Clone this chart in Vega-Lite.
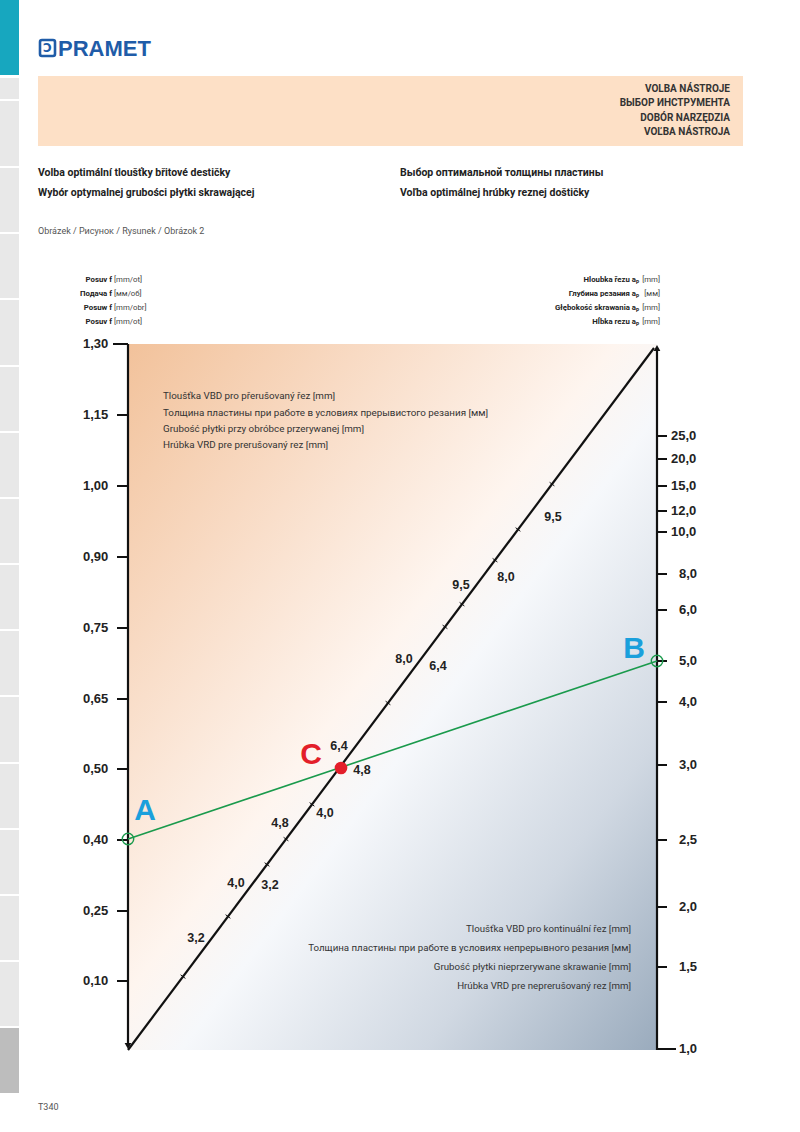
{
  "$schema": "https://vega.github.io/schema/vega-lite/v6.json",
  "width": 800,
  "height": 1132,
  "padding": 0,
  "autosize": {"type": "fit", "contains": "padding"},
  "background": "#ffffff",
  "view": {"stroke": null},
  "config": {"font": "Roboto"},
  "datasets": {
    "side": [
      {"y": 0, "y2": 75, "k": "teal"},
      {"y": 78, "y2": 99, "k": "gray"},
      {"y": 101, "y2": 166, "k": "gray"},
      {"y": 168, "y2": 232, "k": "gray"},
      {"y": 234, "y2": 298, "k": "gray"},
      {"y": 300, "y2": 365, "k": "gray"},
      {"y": 367, "y2": 431, "k": "gray"},
      {"y": 433, "y2": 497, "k": "gray"},
      {"y": 499, "y2": 563, "k": "gray"},
      {"y": 565, "y2": 629, "k": "gray"},
      {"y": 631, "y2": 695, "k": "gray"},
      {"y": 697, "y2": 762, "k": "gray"},
      {"y": 764, "y2": 828, "k": "gray"},
      {"y": 830, "y2": 894, "k": "gray"},
      {"y": 896, "y2": 960, "k": "gray"},
      {"y": 962, "y2": 1026, "k": "gray"},
      {"y": 1028, "y2": 1093, "k": "dark"}
    ],
    "axes": [
      {"x": 128, "y": 344, "x2": 128, "y2": 1044},
      {"x": 657, "y": 350, "x2": 657, "y2": 1050},
      {"x": 128, "y": 1050, "x2": 654, "y2": 348}
    ],
    "lticks": [
      {"v": "1,30", "y": 344, "x": 113},
      {"v": "1,15", "y": 415, "x": 117},
      {"v": "1,00", "y": 486, "x": 117},
      {"v": "0,90", "y": 557, "x": 117},
      {"v": "0,75", "y": 628, "x": 117},
      {"v": "0,65", "y": 699, "x": 117},
      {"v": "0,50", "y": 769, "x": 117},
      {"v": "0,40", "y": 840, "x": 117},
      {"v": "0,25", "y": 911, "x": 117},
      {"v": "0,10", "y": 981, "x": 117}
    ],
    "rticks": [
      {"v": "25,0", "y": 436, "x2": 667, "lx": 671},
      {"v": "20,0", "y": 459, "x2": 667, "lx": 671},
      {"v": "15,0", "y": 486, "x2": 667, "lx": 671},
      {"v": "12,0", "y": 511, "x2": 667, "lx": 671},
      {"v": "10,0", "y": 532, "x2": 667, "lx": 671},
      {"v": "8,0", "y": 574, "x2": 667, "lx": 679},
      {"v": "6,0", "y": 610, "x2": 667, "lx": 679},
      {"v": "5,0", "y": 661, "x2": 667, "lx": 679},
      {"v": "4,0", "y": 702, "x2": 667, "lx": 679},
      {"v": "3,0", "y": 765, "x2": 667, "lx": 679},
      {"v": "2,5", "y": 840, "x2": 667, "lx": 679},
      {"v": "2,0", "y": 907, "x2": 667, "lx": 679},
      {"v": "1,5", "y": 967, "x2": 667, "lx": 679},
      {"v": "1,0", "y": 1049, "x2": 676, "lx": 679}
    ],
    "dticks": [
      {"x": 180.6, "y": 974.8, "x2": 185.4, "y2": 978.4},
      {"x": 225.6, "y": 914.7, "x2": 230.4, "y2": 918.3},
      {"x": 264.6, "y": 862.7, "x2": 269.4, "y2": 866.3},
      {"x": 283.6, "y": 837.3, "x2": 288.4, "y2": 840.9},
      {"x": 309.6, "y": 802.6, "x2": 314.4, "y2": 806.2},
      {"x": 385.6, "y": 701.2, "x2": 390.4, "y2": 704.8},
      {"x": 442.6, "y": 625.1, "x2": 447.4, "y2": 628.7},
      {"x": 459.6, "y": 602.4, "x2": 464.4, "y2": 606.0},
      {"x": 492.6, "y": 558.4, "x2": 497.4, "y2": 562.0},
      {"x": 515.6, "y": 527.7, "x2": 520.4, "y2": 531.3},
      {"x": 549.6, "y": 482.3, "x2": 554.4, "y2": 485.9}
    ],
    "dlabels": [
      {"t": "3,2", "x": 196, "y": 938},
      {"t": "4,0", "x": 236, "y": 883},
      {"t": "4,8", "x": 280, "y": 823},
      {"t": "6,4", "x": 339, "y": 746},
      {"t": "8,0", "x": 404, "y": 659},
      {"t": "9,5", "x": 461, "y": 585},
      {"t": "3,2", "x": 270, "y": 885},
      {"t": "4,0", "x": 325, "y": 813},
      {"t": "4,8", "x": 362, "y": 770},
      {"t": "6,4", "x": 438, "y": 666},
      {"t": "8,0", "x": 506, "y": 577},
      {"t": "9,5", "x": 553, "y": 517}
    ],
    "green": [
      {"x": 128, "y": 839, "x2": 657, "y2": 661}
    ],
    "ends": [
      {"p": "A", "x": 128, "y": 839},
      {"p": "B", "x": 657, "y": 661}
    ],
    "cpoint": [{"p": "C", "x": 341, "y": 768}],
    "lettersBlue": [
      {"t": "A", "x": 145, "y": 811},
      {"t": "B", "x": 634, "y": 649}
    ],
    "lettersRed": [
      {"t": "C", "x": 311, "y": 755}
    ],
    "headbox": [
      {"t": "VOLBA NÁSTROJE", "y": 89},
      {"t": "ВЫБОР ИНСТРУМЕНТА", "y": 103},
      {"t": "DOBÓR NARZĘDZIA", "y": 118},
      {"t": "VOĽBA NÁSTROJA", "y": 132}
    ],
    "subtitles": [
      {"t": "Volba optimální tloušťky břitové destičky", "x": 38, "y": 173},
      {"t": "Wybór optymalnej grubości płytki skrawającej", "x": 38, "y": 193},
      {"t": "Выбор оптимальной толщины пластины", "x": 400, "y": 173},
      {"t": "Voľba optimálnej hrúbky reznej doštičky", "x": 400, "y": 193}
    ],
    "leftHeadBold": [
      {"t": "Posuv f", "y": 280},
      {"t": "Подача f", "y": 294},
      {"t": "Posuw f", "y": 308},
      {"t": "Posuv f", "y": 322}
    ],
    "leftHeadUnit": [
      {"t": "[mm/ot]", "y": 280},
      {"t": "[мм/об]", "y": 294},
      {"t": "[mm/obr]", "y": 308},
      {"t": "[mm/ot]", "y": 322}
    ],
    "rightHeadBold": [
      {"t": "Hloubka řezu aₚ", "y": 280},
      {"t": "Глубина резания aₚ", "y": 294},
      {"t": "Głębokość skrawania aₚ", "y": 308},
      {"t": "Hĺbka rezu aₚ", "y": 322}
    ],
    "rightHeadUnit": [
      {"t": "[mm]", "y": 280},
      {"t": "[мм]", "y": 294},
      {"t": "[mm]", "y": 308},
      {"t": "[mm]", "y": 322}
    ],
    "topBlock": [
      {"t": "Tloušťka VBD pro přerušovaný řez [mm]", "y": 396},
      {"t": "Толщина пластины при работе в условиях прерывистого резания [мм]", "y": 413},
      {"t": "Grubość płytki przy obróbce przerywanej [mm]", "y": 429},
      {"t": "Hrúbka VRD pre prerušovaný rez [mm]", "y": 445}
    ],
    "bottomBlock": [
      {"t": "Tloušťka VBD pro kontinuální řez [mm]", "y": 929},
      {"t": "Толщина пластины при работе в условиях непрерывного резания [мм]", "y": 948},
      {"t": "Grubość płytki nieprzerywane skrawanie [mm]", "y": 967},
      {"t": "Hrúbka VRD pre neprerušovaný rez [mm]", "y": 986}
    ],
    "misc": [
      {"t": "Obrázek / Рисунок / Rysunek / Obrázok 2", "x": 38, "y": 231},
      {"t": "T340", "x": 38, "y": 1107}
    ],
    "logo": [{"t": "PRAMET", "x": 58, "y": 48}],
    "one": [{"k": 1}]
  },
  "layer": [
    {
      "data": {"name": "side"},
      "mark": {"type": "rect"},
      "encoding": {
        "x": {"datum": 0, "type": "quantitative", "scale": {"domain": [0, 800], "nice": false, "zero": false}, "axis": null},
        "x2": {"datum": 19},
        "y": {"field": "y", "type": "quantitative", "scale": {"domain": [0, 1132], "reverse": true, "nice": false, "zero": false}, "axis": null},
        "y2": {"field": "y2"},
        "color": {"field": "k", "type": "nominal", "scale": {"domain": ["teal", "gray", "dark"], "range": ["#17a7bf", "#e8e8e8", "#bdbdbd"]}, "legend": null}
      }
    },
    {
      "data": {"name": "one"},
      "mark": {"type": "rect", "fill": "#fde0c6"},
      "encoding": {
        "x": {"datum": 38, "type": "quantitative"},
        "x2": {"datum": 743},
        "y": {"datum": 76, "type": "quantitative"},
        "y2": {"datum": 146}
      }
    },
    {
      "data": {"name": "one"},
      "mark": {"type": "rect", "fill": {"gradient": "linear", "x1": 0, "y1": 0, "x2": 1, "y2": 1, "stops": [{"offset": 0, "color": "#f2c29b"}, {"offset": 0.22, "color": "#f8dac3"}, {"offset": 0.46, "color": "#fef5ef"}, {"offset": 0.55, "color": "#f6f8fb"}, {"offset": 0.78, "color": "#d0d8e2"}, {"offset": 1, "color": "#9aabbd"}]}},
      "encoding": {
        "x": {"datum": 128, "type": "quantitative"},
        "x2": {"datum": 657},
        "y": {"datum": 344, "type": "quantitative"},
        "y2": {"datum": 1050}
      }
    },
    {
      "data": {"name": "one"},
      "mark": {"type": "rect", "fill": "#ffffff", "fillOpacity": 0, "stroke": "#1f5ca8", "strokeWidth": 2.6, "cornerRadius": 2},
      "encoding": {
        "x": {"datum": 40, "type": "quantitative"},
        "x2": {"datum": 55},
        "y": {"datum": 40, "type": "quantitative"},
        "y2": {"datum": 56}
      }
    },
    {
      "data": {"name": "one"},
      "mark": {"type": "text", "text": "Ɔ", "font": "DejaVu Sans", "fontWeight": "bold", "fontSize": 12, "color": "#1f5ca8", "align": "center", "baseline": "middle"},
      "encoding": {
        "x": {"datum": 47.5, "type": "quantitative"},
        "y": {"datum": 48, "type": "quantitative"}
      }
    },
    {
      "data": {"name": "logo"},
      "mark": {"type": "text", "font": "Liberation Sans", "fontWeight": "bold", "fontSize": 22, "color": "#1f5ca8", "align": "left", "baseline": "middle", "dy": 1},
      "encoding": {
        "x": {"field": "x", "type": "quantitative"},
        "y": {"field": "y", "type": "quantitative"},
        "text": {"field": "t"}
      }
    },
    {
      "data": {"name": "headbox"},
      "mark": {"type": "text", "font": "Roboto", "fontWeight": "bold", "fontSize": 10, "color": "#333333", "align": "right", "baseline": "middle"},
      "encoding": {
        "x": {"datum": 730, "type": "quantitative"},
        "y": {"field": "y", "type": "quantitative"},
        "text": {"field": "t"}
      }
    },
    {
      "data": {"name": "subtitles"},
      "mark": {"type": "text", "font": "Roboto", "fontWeight": "bold", "fontSize": 10.5, "color": "#222222", "align": "left", "baseline": "middle"},
      "encoding": {
        "x": {"field": "x", "type": "quantitative"},
        "y": {"field": "y", "type": "quantitative"},
        "text": {"field": "t"}
      }
    },
    {
      "data": {"name": "misc"},
      "mark": {"type": "text", "font": "Roboto", "fontSize": 9, "color": "#555555", "align": "left", "baseline": "middle"},
      "encoding": {
        "x": {"field": "x", "type": "quantitative"},
        "y": {"field": "y", "type": "quantitative"},
        "text": {"field": "t"}
      }
    },
    {
      "data": {"name": "leftHeadBold"},
      "mark": {"type": "text", "font": "Roboto", "fontWeight": "bold", "fontSize": 7.8, "color": "#222222", "align": "right", "baseline": "middle"},
      "encoding": {
        "x": {"datum": 112, "type": "quantitative"},
        "y": {"field": "y", "type": "quantitative"},
        "text": {"field": "t"}
      }
    },
    {
      "data": {"name": "leftHeadUnit"},
      "mark": {"type": "text", "font": "Roboto", "fontSize": 7.8, "color": "#444444", "align": "left", "baseline": "middle"},
      "encoding": {
        "x": {"datum": 114, "type": "quantitative"},
        "y": {"field": "y", "type": "quantitative"},
        "text": {"field": "t"}
      }
    },
    {
      "data": {"name": "rightHeadBold"},
      "mark": {"type": "text", "font": "Roboto", "fontWeight": "bold", "fontSize": 7.8, "color": "#222222", "align": "right", "baseline": "middle"},
      "encoding": {
        "x": {"datum": 639, "type": "quantitative"},
        "y": {"field": "y", "type": "quantitative"},
        "text": {"field": "t"}
      }
    },
    {
      "data": {"name": "rightHeadUnit"},
      "mark": {"type": "text", "font": "Roboto", "fontSize": 7.8, "color": "#444444", "align": "right", "baseline": "middle"},
      "encoding": {
        "x": {"datum": 660, "type": "quantitative"},
        "y": {"field": "y", "type": "quantitative"},
        "text": {"field": "t"}
      }
    },
    {
      "data": {"name": "topBlock"},
      "mark": {"type": "text", "font": "Roboto", "fontSize": 9.8, "color": "#333333", "align": "left", "baseline": "middle"},
      "encoding": {
        "x": {"datum": 163, "type": "quantitative"},
        "y": {"field": "y", "type": "quantitative"},
        "text": {"field": "t"}
      }
    },
    {
      "data": {"name": "bottomBlock"},
      "mark": {"type": "text", "font": "Roboto", "fontSize": 9.7, "color": "#333333", "align": "right", "baseline": "middle"},
      "encoding": {
        "x": {"datum": 631, "type": "quantitative"},
        "y": {"field": "y", "type": "quantitative"},
        "text": {"field": "t"}
      }
    },
    {
      "data": {"name": "axes"},
      "mark": {"type": "rule", "color": "#111111", "strokeWidth": 2.2},
      "encoding": {
        "x": {"field": "x", "type": "quantitative"},
        "y": {"field": "y", "type": "quantitative"},
        "x2": {"field": "x2"},
        "y2": {"field": "y2"}
      }
    },
    {
      "data": {"name": "lticks"},
      "mark": {"type": "rule", "color": "#111111", "strokeWidth": 2},
      "encoding": {
        "x": {"field": "x", "type": "quantitative"},
        "x2": {"datum": 128},
        "y": {"field": "y", "type": "quantitative"}
      }
    },
    {
      "data": {"name": "lticks"},
      "mark": {"type": "text", "font": "Liberation Sans", "fontWeight": "bold", "fontSize": 13, "color": "#222222", "align": "left", "baseline": "middle"},
      "encoding": {
        "x": {"datum": 83, "type": "quantitative"},
        "y": {"field": "y", "type": "quantitative"},
        "text": {"field": "v"}
      }
    },
    {
      "data": {"name": "rticks"},
      "mark": {"type": "rule", "color": "#111111", "strokeWidth": 2},
      "encoding": {
        "x": {"field": "x2", "type": "quantitative"},
        "x2": {"datum": 657},
        "y": {"field": "y", "type": "quantitative"}
      }
    },
    {
      "data": {"name": "rticks"},
      "mark": {"type": "text", "font": "Liberation Sans", "fontWeight": "bold", "fontSize": 13, "color": "#222222", "align": "left", "baseline": "middle"},
      "encoding": {
        "x": {"field": "lx", "type": "quantitative"},
        "y": {"field": "y", "type": "quantitative"},
        "text": {"field": "v"}
      }
    },
    {
      "data": {"name": "dticks"},
      "mark": {"type": "rule", "color": "#111111", "strokeWidth": 1},
      "encoding": {
        "x": {"field": "x", "type": "quantitative"},
        "y": {"field": "y", "type": "quantitative"},
        "x2": {"field": "x2"},
        "y2": {"field": "y2"}
      }
    },
    {
      "data": {"name": "dlabels"},
      "mark": {"type": "text", "font": "Liberation Sans", "fontWeight": "bold", "fontSize": 12.5, "color": "#222222", "align": "center", "baseline": "middle"},
      "encoding": {
        "x": {"field": "x", "type": "quantitative"},
        "y": {"field": "y", "type": "quantitative"},
        "text": {"field": "t"}
      }
    },
    {
      "data": {"name": "one"},
      "mark": {"type": "point", "shape": "triangle-down", "filled": true, "color": "#111111", "size": 45, "opacity": 1},
      "encoding": {
        "x": {"datum": 128, "type": "quantitative"},
        "y": {"datum": 1046, "type": "quantitative"}
      }
    },
    {
      "data": {"name": "one"},
      "mark": {"type": "point", "shape": "triangle-up", "filled": true, "color": "#111111", "size": 45, "opacity": 1},
      "encoding": {
        "x": {"datum": 657, "type": "quantitative"},
        "y": {"datum": 348, "type": "quantitative"}
      }
    },
    {
      "data": {"name": "green"},
      "mark": {"type": "rule", "color": "#1a9a4c", "strokeWidth": 1.6},
      "encoding": {
        "x": {"field": "x", "type": "quantitative"},
        "y": {"field": "y", "type": "quantitative"},
        "x2": {"field": "x2"},
        "y2": {"field": "y2"}
      }
    },
    {
      "data": {"name": "ends"},
      "mark": {"type": "point", "shape": "circle", "filled": false, "stroke": "#1a9a4c", "strokeWidth": 1.4, "size": 130, "opacity": 1},
      "encoding": {
        "x": {"field": "x", "type": "quantitative"},
        "y": {"field": "y", "type": "quantitative"}
      }
    },
    {
      "data": {"name": "cpoint"},
      "mark": {"type": "point", "shape": "circle", "filled": true, "color": "#e31e2a", "size": 160, "opacity": 1},
      "encoding": {
        "x": {"field": "x", "type": "quantitative"},
        "y": {"field": "y", "type": "quantitative"}
      }
    },
    {
      "data": {"name": "lettersBlue"},
      "mark": {"type": "text", "font": "Liberation Sans", "fontWeight": "bold", "fontSize": 30, "color": "#1aa0dc", "align": "center", "baseline": "middle"},
      "encoding": {
        "x": {"field": "x", "type": "quantitative"},
        "y": {"field": "y", "type": "quantitative"},
        "text": {"field": "t"}
      }
    },
    {
      "data": {"name": "lettersRed"},
      "mark": {"type": "text", "font": "Liberation Sans", "fontWeight": "bold", "fontSize": 30, "color": "#e31e2a", "align": "center", "baseline": "middle"},
      "encoding": {
        "x": {"field": "x", "type": "quantitative"},
        "y": {"field": "y", "type": "quantitative"},
        "text": {"field": "t"}
      }
    }
  ]
}
